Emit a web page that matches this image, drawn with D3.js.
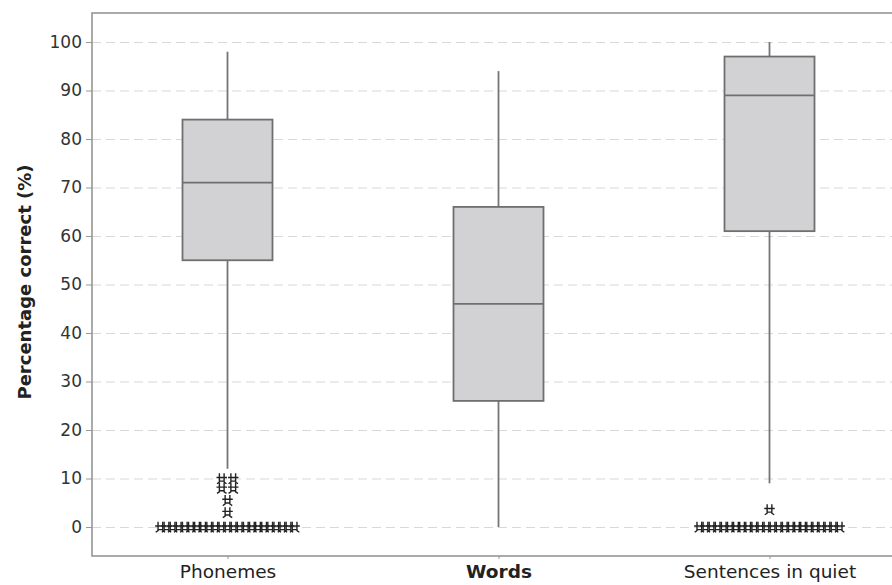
<!DOCTYPE html>
<html>
<head>
<meta charset="utf-8">
<script src="https://cdn.jsdelivr.net/npm/d3@7"></script>
<style>
  body { margin: 0; background: #fff; }
  svg { display: block; font-family: "DejaVu Sans", Verdana, sans-serif; }
</style>
</head>
<body>
<div class="container"></div>
<script>
const w = 892, h = 585;

// categories and box statistics (percentage correct)
const categories = ["Phonemes", "Words", "Sentences in quiet"];
const whiskerLow = [12, 0, 9];
const q1 = [55, 26, 61];
const median = [71, 46, 89];
const q3 = [84, 66, 97];
const whiskerHigh = [98, 94, 100];

// outliers drawn as asterisks
const phonemeOutliers = [0, 0, 0, 0, 0, 0, 0, 0, 0, 0, 0, 0, 0, 0, 0, 0, 0, 0, 0, 0, 0, 0, 0, 3, 5.5, 8, 8, 10, 10];
const wordOutliers = [];
const sentenceOutliers = [0, 0, 0, 0, 0, 0, 0, 0, 0, 0, 0, 0, 0, 0, 0, 0, 0, 0, 0, 0, 0, 0, 0, 0, 3.6];
const outliers = [phonemeOutliers, wordOutliers, sentenceOutliers];

const yTicks = [0, 10, 20, 30, 40, 50, 60, 70, 80, 90, 100];

const frame = { left: 92, top: 13, right: 905, bottom: 556 };
const boxWidth = 90;

const x = d3.scalePoint()
  .domain(categories)
  .range([frame.left, frame.right])
  .padding(0.5);

const y = d3.scaleLinear()
  .domain([0, 100])
  .range([527, 42]);

const svg = d3.select(".container")
  .append("svg")
  .attr("width", w)
  .attr("height", h)
  .attr("viewBox", [0, 0, w, h]);

// dashed gridlines
svg.append("g")
  .attr("transform", `translate(${frame.left},0)`)
  .call(d3.axisLeft(y).tickValues(yTicks).tickSize(-(frame.right - frame.left)).tickFormat(""))
  .call(g => g.select(".domain").remove())
  .call(g => g.selectAll("line")
    .attr("stroke", "#d8d8d8")
    .attr("stroke-width", 1.2)
    .attr("stroke-dasharray", "9,5"));

// y axis
svg.append("g")
  .attr("transform", `translate(${frame.left},0)`)
  .call(d3.axisLeft(y).tickValues(yTicks).tickSize(6).tickPadding(4))
  .call(g => g.select(".domain").remove())
  .call(g => g.selectAll("line").attr("stroke", "#999"))
  .call(g => g.selectAll("text")
    .attr("fill", "#333")
    .style("font-size", "17px")
    .style("font-family", "DejaVu Sans, Verdana, sans-serif"));

// x axis
svg.append("g")
  .attr("transform", `translate(0,${frame.bottom})`)
  .call(d3.axisBottom(x).tickSize(3).tickPadding(6))
  .call(g => g.select(".domain").remove())
  .call(g => g.selectAll("line").attr("stroke", "#999"))
  .call(g => g.selectAll("text")
    .attr("fill", "#222")
    .style("font-size", "18.5px")
    .style("font-weight", d => d === "Words" ? "bold" : "normal")
    .style("font-family", "DejaVu Sans, Verdana, sans-serif"));

// plot frame
svg.append("rect")
  .attr("x", frame.left)
  .attr("y", frame.top)
  .attr("width", frame.right - frame.left)
  .attr("height", frame.bottom - frame.top)
  .attr("fill", "none")
  .attr("stroke", "#8f8f8f")
  .attr("stroke-width", 1.5);

// y title
svg.append("text")
  .attr("transform", "rotate(-90)")
  .attr("x", -282)
  .attr("y", 31)
  .attr("text-anchor", "middle")
  .attr("fill", "#222")
  .style("font-size", "18px")
  .style("font-weight", "bold")
  .text("Percentage correct (%)");

const boxes = categories.map((c, i) => ({
  cat: c, lo: whiskerLow[i], q1: q1[i], med: median[i], q3: q3[i], hi: whiskerHigh[i]
}));

const g = svg.append("g");

// whiskers
g.selectAll("line.whisker-lo")
  .data(boxes)
  .join("line")
  .attr("class", "whisker-lo")
  .attr("x1", d => x(d.cat)).attr("x2", d => x(d.cat))
  .attr("y1", d => y(d.lo)).attr("y2", d => y(d.q1))
  .attr("stroke", "#757575").attr("stroke-width", 1.8);

g.selectAll("line.whisker-hi")
  .data(boxes)
  .join("line")
  .attr("class", "whisker-hi")
  .attr("x1", d => x(d.cat)).attr("x2", d => x(d.cat))
  .attr("y1", d => y(d.hi)).attr("y2", d => y(d.q3))
  .attr("stroke", "#757575").attr("stroke-width", 1.8);

// boxes
g.selectAll("rect.box")
  .data(boxes)
  .join("rect")
  .attr("class", "box")
  .attr("x", d => x(d.cat) - boxWidth / 2)
  .attr("width", boxWidth)
  .attr("y", d => y(d.q3))
  .attr("height", d => y(d.q1) - y(d.q3))
  .attr("fill", "#d2d2d4")
  .attr("stroke", "#6f6f6f")
  .attr("stroke-width", 1.8);

// medians
g.selectAll("line.median")
  .data(boxes)
  .join("line")
  .attr("class", "median")
  .attr("x1", d => x(d.cat) - boxWidth / 2)
  .attr("x2", d => x(d.cat) + boxWidth / 2)
  .attr("y1", d => y(d.med)).attr("y2", d => y(d.med))
  .attr("stroke", "#6f6f6f").attr("stroke-width", 1.8);

// asterisk-like symbol used for outliers
const asterisk = {
  draw(ctx, size) {
    const r = Math.sqrt(size) / 2;
    ctx.moveTo(-r, -r * 0.2); ctx.lineTo(r, -r * 0.2);
    ctx.moveTo(-r * 0.45, -r); ctx.lineTo(-r * 0.45, r * 0.7); ctx.lineTo(-r * 0.9, r);
    ctx.moveTo(r * 0.45, -r); ctx.lineTo(r * 0.45, r * 0.7); ctx.lineTo(r * 0.9, r);
    ctx.moveTo(-r * 0.45, r * 0.5); ctx.lineTo(r * 0.45, r * 0.5);
  }
};
const sym = d3.symbol().type(asterisk).size(110);

const pts = [];
outliers.forEach((vals, i) => {
  const groups = d3.group(vals, v => v);
  groups.forEach((arr, v) => {
    const n = arr.length;
    const gap = n > 4 ? 6.1 : 11.5;
    arr.forEach((_, k) => {
      pts.push({ cat: categories[i], v, off: (k - (n - 1) / 2) * gap });
    });
  });
});

g.selectAll("path.outlier")
  .data(pts)
  .join("path")
  .attr("class", "outlier")
  .attr("transform", d => `translate(${x(d.cat) + d.off},${y(d.v)})`)
  .attr("d", sym)
  .attr("fill", "none")
  .attr("stroke", "#222")
  .attr("stroke-width", 1.4);
</script>
</body>
</html>
